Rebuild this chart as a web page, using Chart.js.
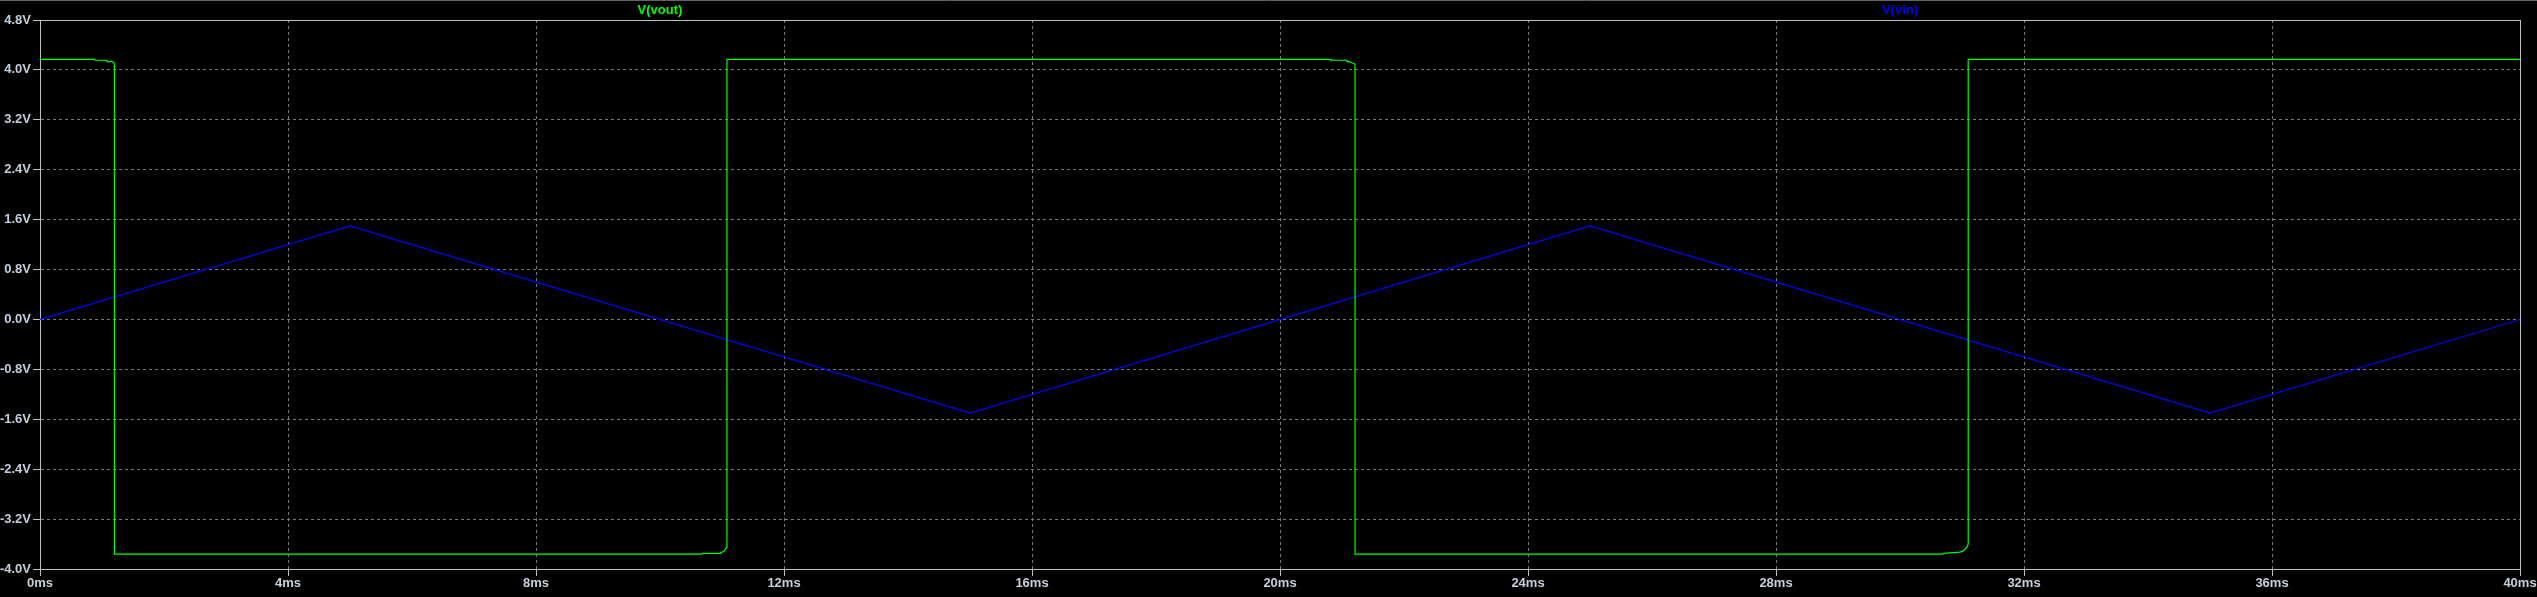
<!DOCTYPE html>
<html><head><meta charset="utf-8">
<script src="https://cdn.jsdelivr.net/npm/chart.js@4/dist/chart.umd.min.js"></script>
<style>html,body{margin:0;padding:0;background:#000;overflow:hidden}canvas{display:block}</style>
</head><body><canvas id="c" width="2537" height="597"></canvas>
<script>
const seriesNames = ['V(vout)', 'V(vin)'];
const seriesColors = ['#00ff00', '#0000ff'];
const voutTime  = [0, 0.88, 0.89, 1.07, 1.08, 1.12, 1.155, 1.19, 1.20, 1.20,
                   10.67, 10.68, 10.97, 10.98, 11.03, 11.07, 11.08, 11.08,
                   20.81, 20.82, 21.07, 21.08, 21.13, 21.17, 21.20, 21.21, 21.21,
                   30.69, 30.70, 30.97, 31.02, 31.08, 31.10, 31.10, 40];
const voutValue = [4.17, 4.17, 4.155, 4.155, 4.14, 4.127, 4.14, 4.12, 4.10, -3.762,
                   -3.762, -3.75, -3.75, -3.735, -3.72, -3.66, -3.60, 4.17,
                   4.17, 4.155, 4.155, 4.14, 4.127, 4.11, 4.10, 4.08, -3.762,
                   -3.762, -3.75, -3.73, -3.71, -3.65, -3.60, 4.17, 4.17];
const vinTime  = [0, 5, 15, 25, 35, 40];
const vinValue = [0, 1.5, -1.5, 1.5, -1.5, 0];
const xMin = 0, xMax = 40, xStep = 4;
const yMin = -4.0, yMax = 4.8, yStep = 0.8;
const xUnit = 'ms', yUnit = 'V';

const toPts = (t, v) => t.map((x, i) => ({x: x, y: v[i]}));
const FONT = {family: "'Liberation Sans', Arial, sans-serif", size: 13, weight: 'bold'};

const framePlugin = {
  id: 'frame',
  beforeDraw(chart) {
    const ctx = chart.ctx;
    ctx.save();
    ctx.fillStyle = '#000';
    ctx.fillRect(0, 0, chart.width, chart.height);
    ctx.strokeStyle = '#646464';
    ctx.lineWidth = 1;
    ctx.beginPath(); ctx.moveTo(0, 0.5); ctx.lineTo(chart.width, 0.5); ctx.stroke();
    ctx.restore();
  },
  beforeDatasetsDraw(chart) {
    const a = chart.chartArea, ctx = chart.ctx;
    ctx.save();
    ctx.strokeStyle = '#c0c0c0';
    ctx.lineWidth = 1;
    ctx.setLineDash([]);
    ctx.strokeRect(Math.round(a.left) + 0.5, Math.round(a.top) + 0.5,
                   Math.round(a.right) - Math.round(a.left), Math.round(a.bottom) - Math.round(a.top));
    ctx.restore();
  },
  afterDraw(chart) {
    const a = chart.chartArea, ctx = chart.ctx;
    ctx.save();
    ctx.font = "bold 13px 'Liberation Sans', Arial, sans-serif";
    ctx.textAlign = 'center';
    ctx.textBaseline = 'middle';
    const fr = [0.25, 0.75];
    seriesNames.forEach((n, i) => {
      ctx.fillStyle = seriesColors[i];
      ctx.fillText(n, a.left + (a.right - a.left) * fr[i], 10);
    });
    ctx.restore();
  }
};

new Chart(document.getElementById('c'), {
  type: 'line',
  data: {
    datasets: [
      {label: seriesNames[0], data: toPts(voutTime, voutValue), borderColor: seriesColors[0], borderWidth: 1.2, pointRadius: 0, tension: 0, fill: false},
      {label: seriesNames[1], data: toPts(vinTime, vinValue), borderColor: seriesColors[1], borderWidth: 1.2, pointRadius: 0, tension: 0, fill: false}
    ]
  },
  options: {
    responsive: false,
    animation: false,
    devicePixelRatio: 1,
    layout: {padding: {top: 20, right: 17, left: 0, bottom: 0}},
    plugins: {legend: {display: false}, tooltip: {enabled: false}},
    scales: {
      x: {
        type: 'linear', min: xMin, max: xMax,
        afterFit: s => { s.height = 28; },
        ticks: {stepSize: xStep, color: '#c4d0dc', font: FONT, padding: 0, maxRotation: 0, autoSkip: false,
                callback: v => Math.round(v) + xUnit},
        grid: {color: '#7a7a7a', lineWidth: 1, tickLength: 7, tickColor: '#c0c0c0', tickBorderDash: []},
        border: {display: true, color: '#c0c0c0', dash: [3, 3]}
      },
      y: {
        type: 'linear', min: yMin, max: yMax,
        afterFit: s => { s.width = 40; },
        ticks: {stepSize: yStep, color: '#c4d0dc', font: FONT, padding: 2, autoSkip: false,
                callback: v => (Math.abs(v) < 1e-9 ? 0 : v).toFixed(1) + yUnit},
        grid: {color: '#7a7a7a', lineWidth: 1, tickLength: 7, tickColor: '#c0c0c0', tickBorderDash: []},
        border: {display: true, color: '#c0c0c0', dash: [3, 3]}
      }
    }
  },
  plugins: [framePlugin]
});
</script></body></html>
